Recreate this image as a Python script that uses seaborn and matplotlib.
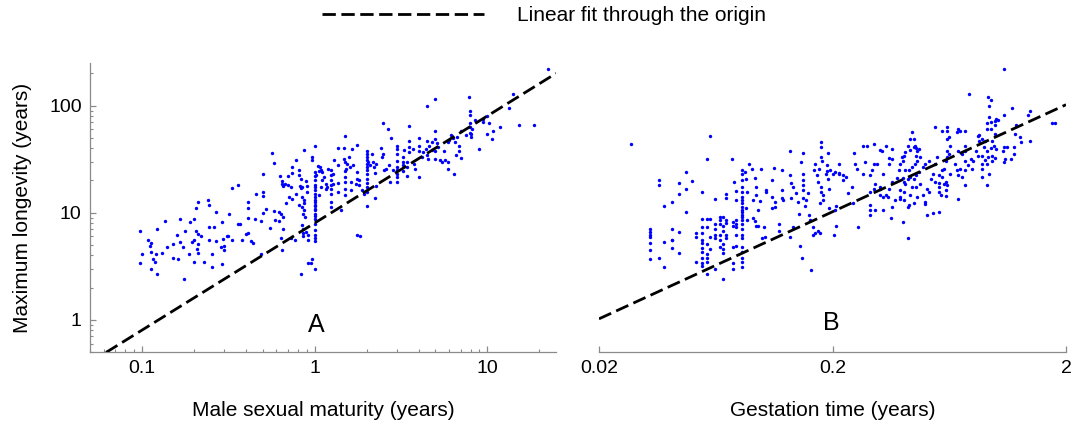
import matplotlib
matplotlib.use("Agg")
import numpy as np
import pandas as pd
import matplotlib.pyplot as plt
import seaborn as sns
from matplotlib.ticker import FixedLocator, FixedFormatter, LogLocator, NullFormatter, NullLocator

# ---------------- Panel A: male sexual maturity vs maximum longevity ----------------
# small-bodied species (left cloud)
maturity_left = [
    0.58, 0.5, 0.33, 0.36, 0.46, 0.5, 0.5, 0.21, 0.24, 0.245,
    0.206, 0.27, 0.32, 0.41, 0.41, 0.52, 0.5, 0.58, 0.62, 0.136,
    0.165, 0.19, 0.2, 0.29, 0.36, 0.37, 0.41, 0.45, 0.49, 0.59,
    0.62, 0.55, 0.098, 0.122, 0.16, 0.177, 0.205, 0.21, 0.245, 0.26,
    0.22, 0.245, 0.27, 0.295, 0.31, 0.315, 0.33, 0.38, 0.4, 0.41,
    0.43, 0.44, 0.108, 0.113, 0.111, 0.152, 0.14, 0.165, 0.196, 0.2,
    0.173, 0.21, 0.285, 0.3, 0.3, 0.207, 0.21, 0.187, 0.255, 0.1,
    0.113, 0.12, 0.116, 0.119, 0.13, 0.152, 0.162, 0.2, 0.23, 0.098,
    0.113, 0.122, 0.255, 0.29, 0.176, 0.49, 0.57,
]
longevity_left = [
    29, 23, 17, 18, 15, 15.5, 14.3, 12.6, 13, 11.7,
    11.1, 10.2, 9.8, 12.6, 11.1, 10.8, 9.9, 10.4, 10.1, 8.4,
    8.8, 8.2, 8.8, 8.2, 7.8, 7.8, 9.0, 8.8, 8.4, 8.6,
    8.4, 7.2, 6.7, 7.1, 6.2, 6.7, 6.8, 6.3, 7.4, 7.4,
    6.0, 5.6, 5.4, 5.7, 6.0, 6.1, 5.5, 5.6, 6.3, 6.5,
    5.4, 5.2, 5.6, 5.2, 4.9, 5.1, 4.8, 5.3, 5.3, 5.6,
    4.8, 5.1, 4.8, 4.9, 4.5, 4.6, 4.2, 4.1, 4.1, 4.1,
    4.3, 4.1, 3.7, 3.5, 4.2, 3.8, 3.7, 3.5, 3.5, 3.4,
    3.0, 2.7, 3.1, 3.3, 2.4, 4.1, 36,
]
# species maturing at about one to three years (middle cloud)
maturity_mid = [
    2.49, 2.66, 1.49, 1.0, 0.87, 0.78, 0.63, 0.65, 0.66, 0.70,
    0.74, 0.74, 0.81, 0.81, 0.83, 0.82, 0.83, 0.85, 0.89, 0.9,
    0.9, 0.97, 0.96, 1.0, 1.0, 1.0, 1.0, 1.0, 1.0, 1.0,
    1.0, 1.0, 1.0, 1.0, 1.0, 1.0, 1.0, 1.0, 1.0, 1.0,
    1.0, 1.0, 1.0, 1.0, 1.0, 1.08, 1.04, 1.06, 1.09, 1.11,
    1.02, 1.1, 1.09, 1.06, 0.85, 0.87, 0.87, 0.87, 0.86, 0.88,
    0.85, 0.86, 0.86, 0.86, 0.91, 0.92, 0.89, 0.64, 0.66, 0.66,
    0.64, 0.65, 0.73, 0.77, 0.78, 0.71, 0.74, 0.73, 0.67, 0.70,
    0.65, 0.68, 0.81, 0.85, 1.2, 1.24, 1.24, 1.24, 1.24, 1.24,
    1.24, 1.24, 1.24, 1.16, 1.16, 1.18, 1.13, 1.29, 1.28, 1.27,
    1.36, 1.36, 1.37, 1.37, 1.42, 1.47, 1.48, 1.5, 1.52, 1.49,
    1.5, 1.49, 1.49, 1.5, 1.55, 1.58, 1.6, 1.62, 1.62, 1.64,
    1.67, 1.75, 1.75, 1.75, 1.73, 1.81, 1.81, 1.76, 1.83, 1.89,
    1.94, 2.0, 2.0, 2.0, 2.0, 2.0, 2.0, 2.0, 2.0, 2.0,
    2.0, 2.0, 2.0, 2.0, 2.09, 2.05, 2.14, 2.19, 2.21, 2.24,
    2.23, 2.28, 2.26, 2.42, 2.49, 2.47, 2.53, 2.58, 2.68, 0.97,
    0.95, 0.92, 1.0, 0.83,
]
longevity_mid = [
    68.5, 60, 52, 42, 38.5, 31, 21.9, 19.6, 17.9, 21.9,
    26.7, 23.4, 25.3, 22.3, 20.5, 17.6, 16.9, 17.4, 19.8, 17.6,
    15.7, 33, 31, 24, 21.9, 20, 18, 16.2, 14, 13.1,
    11.9, 10.9, 9.8, 8.8, 7.8, 6.9, 6.2, 5.75, 5.4, 17.2,
    15.1, 12.6, 11.5, 10.5, 9.3, 26.7, 27.5, 24.3, 24.8, 24,
    22.3, 20, 17.4, 14.5, 14, 13.1, 12.2, 10.5, 9.8, 9.1,
    7.7, 7.1, 6.5, 6.0, 6.2, 5.6, 6.6, 9.8, 9.1, 7.1,
    5.75, 4.5, 5.75, 5.6, 15.1, 14, 13.5, 17.2, 18.4, 18,
    18.4, 12.3, 11.7, 11.3, 25.7, 24.8, 22.3, 20, 18, 16.8,
    15.1, 12.6, 11.3, 18.7, 16.8, 17.4, 21.6, 31, 22.8, 18.7,
    40, 27.7, 19, 15.6, 10.5, 40, 32, 29.7, 25.7, 24.3,
    21.6, 19.3, 16.8, 14.5, 28.7, 33, 26.7, 19.3, 16.2, 39,
    28, 43, 24, 20.8, 18.7, 20, 18, 6.2, 6.0, 16.2,
    15.1, 38, 35.5, 33, 31, 28.7, 26.7, 24.8, 22.8, 20.8,
    19, 17.2, 15.6, 11.5, 28, 29.7, 35.5, 29.7, 26.7, 23.4,
    13.7, 28.7, 17.7, 40, 35.5, 33, 24.8, 25.7, 28, 3.7,
    3.4, 3.4, 3.0, 2.7,
]
# late-maturing species (right cloud)
maturity_right = [
    22.6, 14, 13.4, 15.3, 18.6, 11.9, 10.8, 10, 10.6, 8.9,
    7.8, 5.0, 4.5, 7.9, 7.9, 8.5, 7.9, 9.5, 9.9, 10.2,
    9.4, 7.9, 8.2, 7.9, 7.5, 7.0, 8.1, 8.1, 6.2, 6.0,
    6.3, 6.7, 6.5, 5.95, 6.9, 5.0, 5.0, 5.1, 5.2, 4.8,
    4.6, 4.5, 4.4, 4.8, 4.25, 4.0, 4.0, 4.0, 3.7, 3.5,
    3.5, 3.5, 3.5, 3.3, 3.25, 3.25, 3.0, 3.0, 3.0, 3.0,
    3.0, 3.0, 3.0, 3.0, 2.76, 2.85, 3.25, 3.45, 3.45, 3.45,
    3.75, 3.8, 4.0, 4.2, 4.5, 4.55, 4.95, 4.95, 5.3, 5.5,
    5.7, 5.95, 5.6, 5.95, 6.4, 7.0, 6.55, 6.9, 3.25, 3.0,
    2.75,
]
longevity_right = [
    219, 128, 94, 66, 66, 63, 58, 54, 49, 39,
    120, 115, 99, 89, 81, 74, 69, 75, 80, 69,
    70, 63, 61, 56, 53, 58, 54, 51, 53, 48,
    50, 51, 45.6, 45.6, 42, 58.5, 49, 44.7, 41.5, 45.6,
    42.3, 47, 39.5, 38.7, 36.7, 41.8, 49.5, 38, 39.5, 47,
    64, 41.5, 36.8, 38.7, 33, 30, 42, 39.5, 35.3, 30.7,
    26.7, 24.8, 23, 21.5, 49.5, 25, 27.8, 29.7, 26.7, 22,
    28.2, 25.8, 21.6, 33, 34.7, 32, 38, 32, 30.8, 29.8,
    30.8, 29.8, 37.7, 25.8, 23, 32.3, 34.7, 38, 24.5, 19.4,
    19.4,
]

# ---------------- Panel B: gestation time vs maximum longevity ----------------
gestation_short = [
    0.0275, 0.060, 0.058, 0.074, 0.047, 0.036, 0.036, 0.044, 0.05, 0.047,
    0.044, 0.055, 0.041, 0.038, 0.047, 0.063, 0.033, 0.033, 0.033, 0.033,
    0.033, 0.033, 0.033, 0.036, 0.038, 0.038, 0.041, 0.041, 0.041, 0.041,
    0.044, 0.044, 0.052, 0.052, 0.052, 0.055, 0.055, 0.055, 0.055, 0.055,
    0.055, 0.055, 0.055, 0.055, 0.055, 0.058, 0.058, 0.058, 0.058, 0.058,
    0.058, 0.058, 0.06, 0.06, 0.06, 0.063, 0.063, 0.063, 0.063, 0.063,
    0.066, 0.066, 0.066, 0.066, 0.066, 0.066, 0.068, 0.068, 0.068, 0.068,
    0.068, 0.068, 0.068, 0.07, 0.07, 0.07, 0.07, 0.07, 0.07, 0.075,
    0.075, 0.075, 0.075, 0.075, 0.077, 0.077, 0.077, 0.077, 0.077, 0.076,
    0.077, 0.077,
]
longevity_short = [
    44, 52, 32, 32, 24, 20, 18.3, 19, 19.8, 16.6,
    15, 15.5, 12.6, 11.6, 10.2, 13.4, 7.1, 6.6, 6.2, 5.9,
    5.2, 4.5, 3.7, 3.8, 5.35, 3.1, 7.0, 5.6, 5.5, 4.7,
    6.6, 4.2, 6.5, 5.9, 3.5, 8.8, 7.3, 6.4, 5.6, 5.2,
    4.7, 4.3, 3.8, 3.4, 3.2, 8.8, 7.3, 5.1, 4.1, 3.8,
    3.5, 2.7, 8.8, 5.95, 4.6, 7.8, 7.1, 6.2, 5.75, 3.0,
    9.1, 8.5, 7.8, 6.2, 5.6, 4.75, 9.1, 7.5, 6.8, 5.1,
    4.6, 2.4, 4.2, 8.6, 8.0, 6.2, 5.75, 15, 13.8, 8.2,
    7.5, 4.8, 3.4, 3.0, 7.8, 7.3, 6.2, 4.9, 8.6, 19.2,
    16, 13,
]
gestation_midlow = [
    0.082, 0.082, 0.082, 0.082, 0.082, 0.082, 0.082, 0.082, 0.082, 0.082,
    0.082, 0.082, 0.082, 0.082, 0.082, 0.082, 0.082, 0.082, 0.082, 0.082,
    0.082, 0.082, 0.082,
    0.084, 0.085, 0.086, 0.085, 0.086, 0.088, 0.09, 0.093, 0.094, 0.094,
    0.091, 0.0975, 0.096, 0.091, 0.093, 0.094, 0.096, 0.102, 0.1, 0.103,
    0.099, 0.104, 0.104, 0.11, 0.11, 0.11, 0.112, 0.114, 0.114, 0.118,
    0.118, 0.122, 0.122, 0.122, 0.123, 0.131, 0.132, 0.133, 0.135, 0.133,
    0.131, 0.135, 0.14, 0.142, 0.144, 0.145, 0.148, 0.147, 0.149, 0.15,
    0.149, 0.15, 0.15, 0.15, 0.154, 0.153, 0.157, 0.159, 0.16, 0.162,
    0.165, 0.165, 0.168, 0.173, 0.176, 0.166, 0.168, 0.172, 0.173, 0.175,
    0.178, 0.178, 0.178, 0.181, 0.178, 0.178, 0.182, 0.182, 0.176, 0.191,
    0.189, 0.189, 0.187, 0.191, 0.194, 0.196, 0.194, 0.204, 0.207, 0.208,
    0.203, 0.213, 0.213, 0.221, 0.222, 0.229, 0.232, 0.244, 0.248, 0.25,
    0.254, 0.257, 0.243, 0.2, 0.205, 0.214,
]
longevity_midlow = [
    24.8, 23, 20, 17.4, 15.6, 14, 13, 12.2, 11.3, 10.7,
    10.2, 9.6, 9.1, 8.5, 7.8, 7.1, 6.2, 5.75, 4.8, 4.3,
    3.75, 3.5, 3.1,
    24, 20.8, 15.6, 11, 8.6, 28.7, 25.7, 21.2, 17.4, 14.5,
    13, 12.9, 10.6, 9.0, 8.4, 7.5, 7.5, 7.4, 5.75, 5.95,
    25.7, 15.6, 16.2, 20, 14, 11, 26.2, 12.6, 11.3, 7.8,
    6.8, 25, 16.2, 13.8, 13, 38, 22.3, 19, 17.4, 13.6,
    5.9, 7.3, 15.3, 12.6, 9.8, 4.9, 3.75, 29.7, 36, 23,
    20.3, 18, 16.2, 13.8, 13, 11.5, 15.3, 9.5, 8.6, 2.9,
    7.4, 6.2, 6.5, 6.8, 6.4, 25, 28.7, 22.3, 19.4, 25.7,
    45.6, 41, 33.4, 30.6, 17.4, 15.6, 14.5, 13, 12.2, 36,
    27.7, 24.5, 23, 20.8, 16.7, 25, 11, 10.6, 11.5, 7.5,
    6.2, 28.7, 23.3, 22.3, 20.3, 21.4, 15.3, 12.4, 36, 28.2,
    25.7, 7.4, 17.4, 23, 24, 23,
]
gestation_midhigh = [
    0.27, 0.275, 0.28, 0.3, 0.32, 0.325, 0.34, 0.36, 0.36, 0.35,
    0.35, 0.33, 0.3, 0.31, 0.295, 0.29, 0.27, 0.305, 0.32, 0.3,
    0.29, 0.32, 0.34, 0.35, 0.36, 0.377, 0.385, 0.39, 0.395, 0.4,
    0.405, 0.41, 0.41, 0.42, 0.43, 0.44, 0.43, 0.445, 0.45, 0.445,
    0.455, 0.46, 0.47, 0.455, 0.46, 0.475, 0.45, 0.44, 0.425, 0.43,
    0.445, 0.455, 0.47, 0.49, 0.5, 0.41, 0.44, 0.455, 0.475, 0.51,
    0.52, 0.49, 0.46, 0.43, 0.405, 0.39, 0.39, 0.39, 0.37, 0.36,
    0.405, 0.425, 0.42, 0.445, 0.5, 0.5, 0.54, 0.57, 0.345, 0.33,
    0.32, 0.4, 0.405, 0.42, 0.53, 0.55, 0.57, 0.57, 0.61, 0.59,
    0.6, 0.61, 0.62, 0.63, 0.62, 0.64, 0.62, 0.63, 0.62, 0.62,
    0.69, 0.68, 0.59, 0.55, 0.7, 0.74, 0.74, 0.69, 0.72, 0.74,
    0.76, 0.78, 0.8, 0.84, 0.79, 0.7, 0.68, 0.64, 0.67, 0.69,
    0.72, 0.74, 0.59, 0.57, 0.54, 0.55, 0.56, 0.52, 0.6, 0.61,
    0.585, 0.61, 0.69, 0.74, 0.77, 0.62, 0.57, 0.84, 0.85, 0.82,
    0.74, 0.51, 0.29, 0.29, 0.305, 0.33, 0.355, 0.29, 0.4, 0.42,
]
longevity_midhigh = [
    41.6, 29.8, 42.4, 43.5, 38.7, 38, 42.4, 39.5, 32, 32.7,
    28.2, 23, 28.7, 28.7, 24.8, 22.3, 22.8, 18.7, 16.8, 16.8,
    15.6, 14.5, 14.5, 16.8, 19.4, 21.2, 24.8, 28.7, 33, 30.7,
    34.2, 36.7, 24.8, 42.4, 38.7, 56.5, 49, 49, 42.4, 41,
    40.3, 38, 39.5, 34.2, 30.7, 33, 28.7, 26.7, 24.8, 21.6,
    20.8, 22.3, 24, 26.7, 28.7, 18.7, 17.4, 17.4, 18.7, 16.8,
    15.6, 14.5, 14, 14.5, 15.6, 16.2, 14, 13.5, 13.2, 11.3,
    13, 11.7, 11.3, 12.2, 12.6, 12, 10, 10.2, 14, 14,
    17.4, 21.2, 19.4, 20.8, 20.8, 19.4, 15.6, 17.4, 16.2, 21.6,
    25.8, 30.7, 33, 35.3, 38, 42.4, 49, 50.7, 58.5, 63.8,
    60.7, 56.5, 58.5, 63, 58.5, 58.5, 42.4, 38, 35.3, 30.7,
    27.7, 31.8, 30.7, 34.2, 25.8, 25.8, 24.8, 23.1, 28.7, 22.3,
    21.6, 24.8, 24.8, 22.3, 23.1, 28.7, 33, 30.7, 18.7, 19.4,
    14.5, 14.2, 13.5, 18, 128, 18, 19, 52.4, 47.2, 38,
    38, 9.5, 11.7, 10.5, 10.6, 10.6, 9.0, 9.5, 8.2, 5.75,
]
gestation_long = [
    1.08, 0.93, 0.95, 0.94, 1.18, 1.4, 1.38, 1.08, 0.94, 1.0,
    1.02, 0.95, 0.92, 0.99, 0.99, 0.95, 0.92, 0.99, 1.22, 1.21,
    1.27, 1.28, 1.4, 1.75, 1.8, 0.85, 0.87, 0.9, 0.96, 0.98,
    1.0, 1.08, 1.12, 1.07, 1.2, 1.2, 0.95, 0.89, 0.92, 0.87,
    0.9, 0.93, 0.96, 0.99, 0.92, 0.87, 0.96, 1.1, 1.09, 1.16,
    0.87, 0.94, 0.87, 0.92,
]
longevity_long = [
    219, 121, 114, 99, 94, 89, 82, 82, 78, 75,
    74, 70, 68.5, 72, 66, 61, 61, 54.5, 66, 54,
    51, 45.6, 47, 68.5, 68.5, 52.6, 49, 47, 47, 42.3,
    39.5, 41.5, 41.5, 38, 41.5, 35, 40, 41.5, 37.6, 34,
    31, 33.4, 34, 32.6, 28.7, 28.2, 30.4, 31.8, 29.7, 31.6,
    25.8, 22.8, 21.6, 18.3,
]

# fitted slopes of the lines through the origin (longevity = slope * x)
fit_slope_A = 8.0
fit_slope_B = 51.0
fit_label = "Linear fit through the origin"

# axis ranges and ticks
xlim_A = [0.05, 25]
xlim_B = [0.02, 2]
ylim_all = [0.5, 250]
xticks_A = [0.1, 1, 10]
xticklabels_A = ["0.1", "1", "10"]
xticks_B = [0.02, 0.2, 2]
xticklabels_B = ["0.02", "0.2", "2"]
yticks = [1, 10, 100]
yticklabels = ["1", "10", "100"]

assert len(maturity_left) == len(longevity_left)
assert len(maturity_mid) == len(longevity_mid)
assert len(maturity_right) == len(longevity_right)
assert len(gestation_short) == len(longevity_short)
assert len(gestation_midlow) == len(longevity_midlow)
assert len(gestation_midhigh) == len(longevity_midhigh)
assert len(gestation_long) == len(longevity_long)

dfA = pd.DataFrame({
    "maturity": maturity_left + maturity_mid + maturity_right,
    "longevity": longevity_left + longevity_mid + longevity_right,
})
dfB = pd.DataFrame({
    "gestation": gestation_short + gestation_midlow + gestation_midhigh + gestation_long,
    "longevity": longevity_short + longevity_midlow + longevity_midhigh + longevity_long,
})
fitA = pd.DataFrame({"x": xlim_A})
fitA["y"] = fit_slope_A * fitA["x"]
fitB = pd.DataFrame({"x": xlim_B})
fitB["y"] = fit_slope_B * fitB["x"]

sns.set_theme(style="white")
plt.rcParams["font.family"] = ["Liberation Sans", "DejaVu Sans"]
plt.rcParams["text.color"] = "black"
plt.rcParams["axes.labelcolor"] = "black"
plt.rcParams["xtick.color"] = "black"
plt.rcParams["ytick.color"] = "black"

W, H = 1073, 421
fig = plt.figure(figsize=(W / 100, H / 100), dpi=100)
axA = fig.add_axes([90 / W, 1 - 352 / H, (556 - 90) / W, (352 - 63) / H])
axB = fig.add_axes([599 / W, 1 - 352 / H, (1066 - 599) / W, (352 - 63) / H])

POINT = "#0000ff"
SPINE = "#8a8a8a"

sns.scatterplot(data=dfA, x="maturity", y="longevity", ax=axA, color=POINT,
                s=6, linewidth=0, zorder=2)
sns.scatterplot(data=dfB, x="gestation", y="longevity", ax=axB, color=POINT,
                s=6, linewidth=0, zorder=2)

sns.lineplot(data=fitA, x="x", y="y", ax=axA, color="black", linewidth=2.0,
             label=fit_label, zorder=3)
sns.lineplot(data=fitB, x="x", y="y", ax=axB, color="black", linewidth=2.0,
             zorder=3)
for ax in (axA, axB):
    ax.lines[-1].set_dashes((4.8, 2.0))

handles, labels = axA.get_legend_handles_labels()
if axA.get_legend() is not None:
    axA.get_legend().remove()
if axB.get_legend() is not None:
    axB.get_legend().remove()

for ax in (axA, axB):
    ax.set_xscale("log")
    ax.set_yscale("log")
    ax.set_ylim(*ylim_all)
    for side in ("top", "right"):
        ax.spines[side].set_visible(False)
    for side in ("left", "bottom"):
        ax.spines[side].set_color(SPINE)
        ax.spines[side].set_linewidth(0.9)
    ax.grid(False)

axA.set_xlim(*xlim_A)
axB.set_xlim(*xlim_B)

# Panel A ticks
axA.xaxis.set_major_locator(FixedLocator(xticks_A))
axA.xaxis.set_major_formatter(FixedFormatter(xticklabels_A))
axA.xaxis.set_minor_locator(LogLocator(base=10, subs=np.arange(2, 10)))
axA.xaxis.set_minor_formatter(NullFormatter())
axA.yaxis.set_major_locator(FixedLocator(yticks))
axA.yaxis.set_major_formatter(FixedFormatter(yticklabels))
axA.yaxis.set_minor_locator(LogLocator(base=10, subs=np.arange(2, 10)))
axA.yaxis.set_minor_formatter(NullFormatter())

# Panel B ticks
axB.xaxis.set_major_locator(FixedLocator(xticks_B))
axB.xaxis.set_major_formatter(FixedFormatter(xticklabels_B))
axB.xaxis.set_minor_locator(NullLocator())
axB.spines["left"].set_visible(False)

for ax in (axA, axB):
    ax.tick_params(which="major", direction="in", length=4.5, width=0.9,
                   color=SPINE, labelsize=14, pad=6, labelcolor="black",
                   bottom=True, left=True)
    ax.tick_params(which="minor", direction="in", length=2.5, width=0.8,
                   color=SPINE, bottom=True, left=True)
axB.tick_params(axis="y", which="both", left=False, labelleft=False)

axA.set_xlabel("Male sexual maturity (years)", fontsize=15, labelpad=17)
axB.set_xlabel("Gestation time (years)", fontsize=15, labelpad=17)
axA.set_ylabel("Maximum longevity (years)", fontsize=15, labelpad=12)
axB.set_ylabel("")

axA.text(0.485, 0.093, "A", transform=axA.transAxes, ha="center", va="center", fontsize=18)
axB.text(0.497, 0.10, "B", transform=axB.transAxes, ha="center", va="center", fontsize=18)

fig.legend(handles, labels, loc="center", bbox_to_anchor=(0.507, 0.962),
           frameon=False, fontsize=15, handlelength=7.8, handletextpad=1.6)

fig.savefig("out.png", dpi=100)
